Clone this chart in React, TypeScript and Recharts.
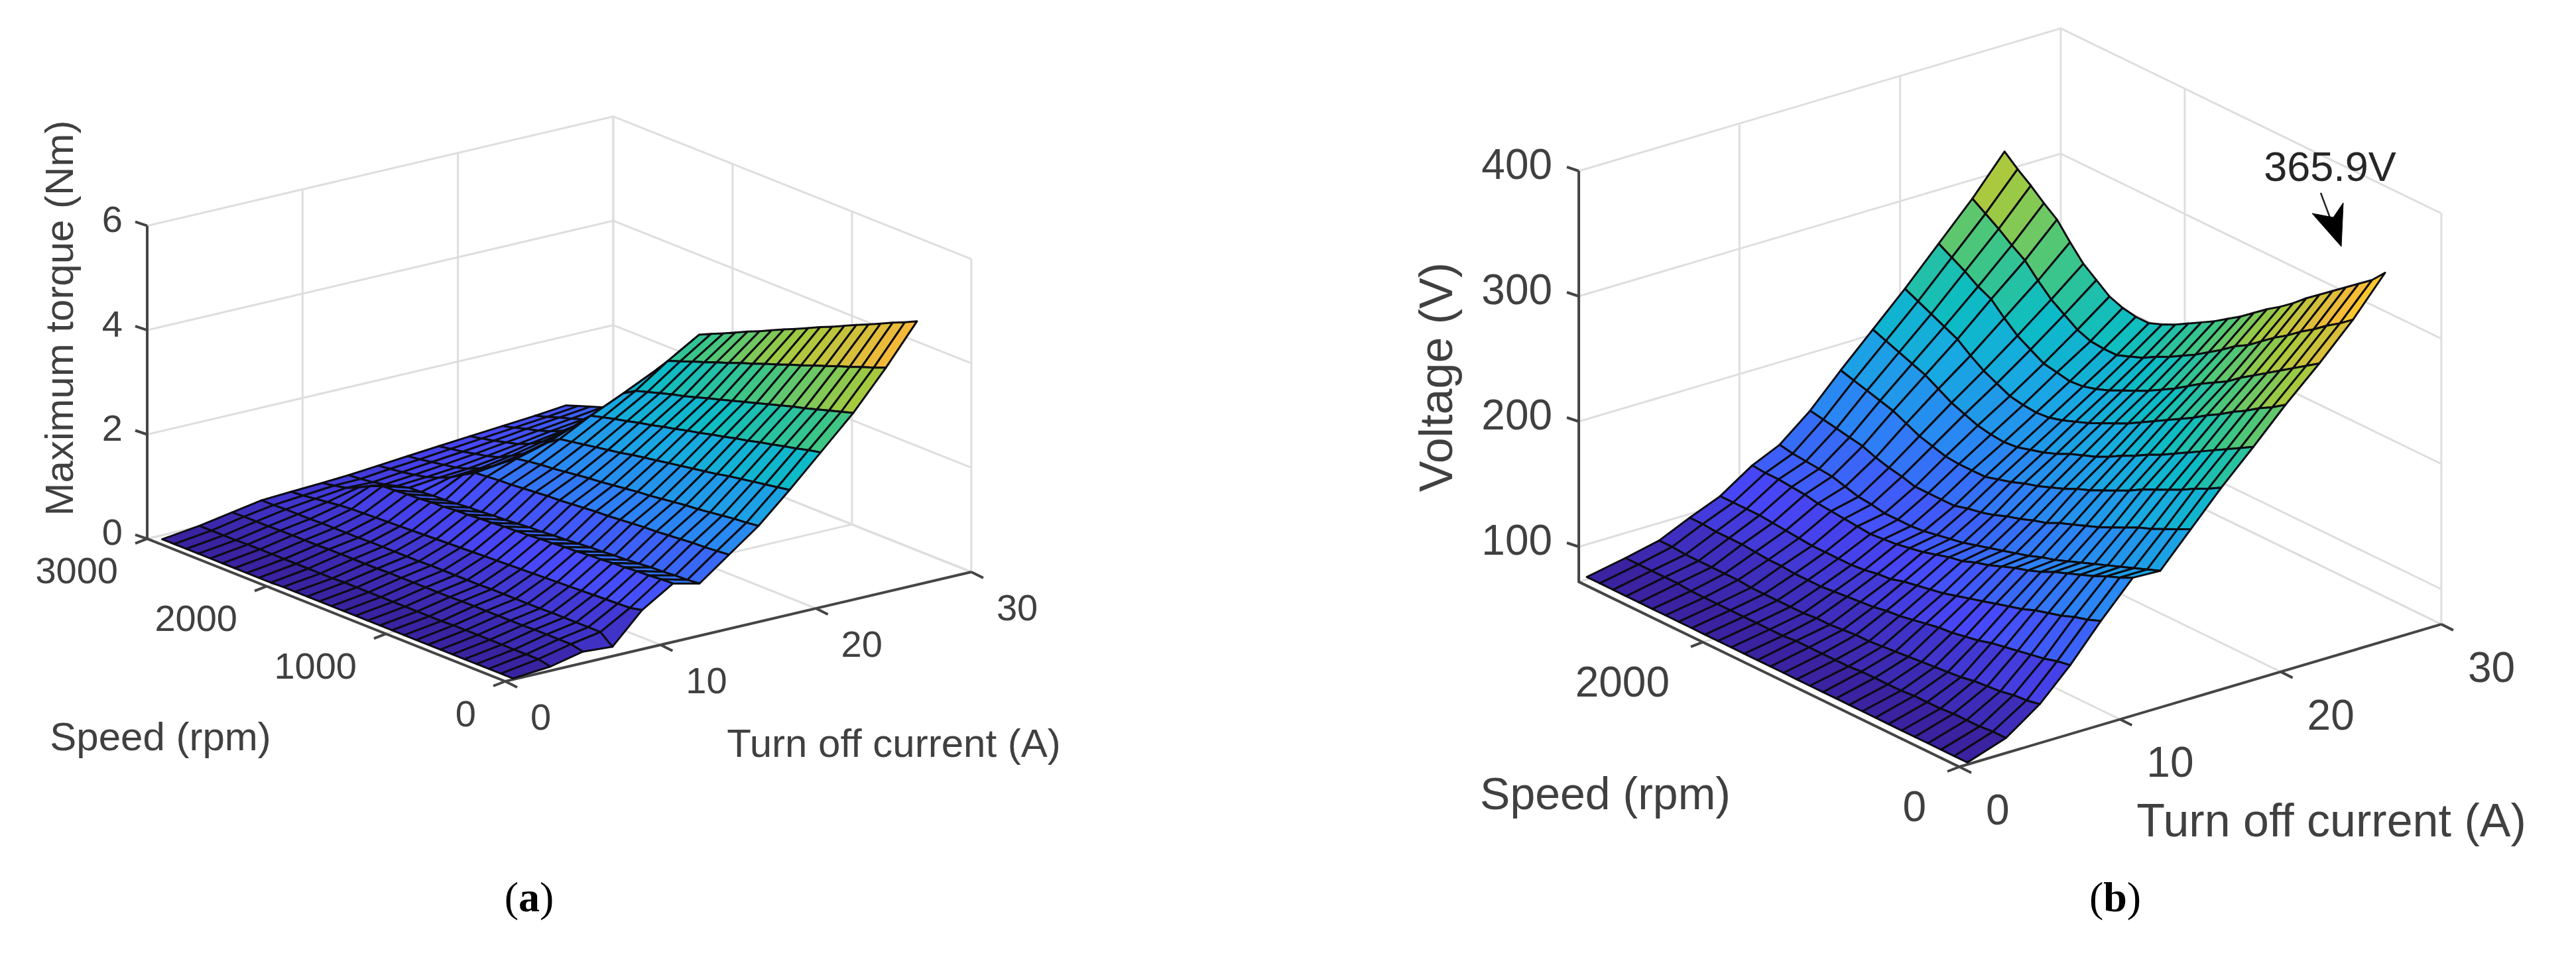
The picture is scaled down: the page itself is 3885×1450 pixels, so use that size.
import { ScatterChart, Scatter, XAxis, YAxis } from 'recharts';

const WIDTH = 3885;
const HEIGHT = 1450;

// turn off current (A) of each surface row
const currents = [0.5, 2.9, 5, 6.9, 8.8, 10.8, 12.5, 14.4, 16.3, 18.3, 20.3, 22.4, 24.5, 26.5];

// speed (rpm) of each surface column
const torqueSpeeds = [0, 101, 203, 304, 406, 507, 608, 710, 811, 912, 1014, 1115, 1217, 1318, 1419, 1521, 1622, 1724, 1825, 1926, 2028, 2129, 2230, 2332, 2433, 2535, 2636, 2737, 2839, 2940];
const voltageSpeeds = [0, 102, 205, 307, 409, 511, 614, 716, 818, 920, 1023, 1125, 1227, 1330, 1432, 1534, 1636, 1739, 1841, 1943, 2045, 2148, 2250, 2352, 2455, 2557, 2659, 2761, 2864, 2966];

// maximum torque (Nm), one line per current, one value per speed
const torqueRows = [
  [0.02, 0.02, 0.02, 0.02, 0.02, 0.02, 0.02, 0.02, 0.02, 0.02, 0.02, 0.02, 0.02, 0.02, 0.02, 0.02, 0.02, 0.02, 0.02, 0.02, 0.01, 0.01, 0.01, 0.01, 0.01, 0.01, 0.01, 0.01, 0.01, 0.01],
  [0.08, 0.13, 0.13, 0.13, 0.13, 0.13, 0.13, 0.13, 0.13, 0.12, 0.12, 0.12, 0.12, 0.12, 0.12, 0.12, 0.12, 0.12, 0.11, 0.11, 0.11, 0.11, 0.11, 0.11, 0.11, 0.11, 0.1, 0.1, 0.1, 0.1],
  [0.22, 0.27, 0.27, 0.27, 0.27, 0.26, 0.26, 0.26, 0.26, 0.26, 0.26, 0.25, 0.25, 0.25, 0.25, 0.25, 0.25, 0.24, 0.24, 0.24, 0.24, 0.24, 0.23, 0.23, 0.23, 0.23, 0.22, 0.22, 0.22, 0.21],
  [0.18, 0.37, 0.37, 0.37, 0.37, 0.37, 0.36, 0.36, 0.36, 0.36, 0.36, 0.35, 0.35, 0.35, 0.35, 0.35, 0.34, 0.34, 0.34, 0.34, 0.34, 0.33, 0.33, 0.33, 0.33, 0.32, 0.32, 0.32, 0.31, 0.31],
  [0.75, 0.7, 0.69, 0.68, 0.67, 0.66, 0.65, 0.64, 0.63, 0.62, 0.61, 0.6, 0.59, 0.58, 0.57, 0.56, 0.55, 0.54, 0.53, 0.52, 0.51, 0.5, 0.49, 0.48, 0.47, 0.45, 0.42, 0.39, 0.36, 0.34],
  [1.12, 1.11, 1.09, 1.08, 1.06, 1.05, 1.03, 1.02, 1.0, 0.99, 0.97, 0.96, 0.94, 0.93, 0.92, 0.9, 0.89, 0.87, 0.86, 0.84, 0.83, 0.81, 0.8, 0.78, 0.77, 0.68, 0.56, 0.46, 0.41, 0.37],
  [1.0, 0.98, 0.97, 0.95, 0.94, 0.92, 0.9, 0.89, 0.87, 0.86, 0.84, 0.82, 0.81, 0.79, 0.78, 0.76, 0.74, 0.73, 0.71, 0.7, 0.68, 0.66, 0.65, 0.63, 0.62, 0.56, 0.5, 0.45, 0.42, 0.4],
  [1.42, 1.4, 1.38, 1.37, 1.35, 1.33, 1.31, 1.3, 1.28, 1.26, 1.24, 1.23, 1.21, 1.19, 1.17, 1.16, 1.14, 1.12, 1.1, 1.09, 1.07, 1.05, 0.92, 0.78, 0.68, 0.6, 0.55, 0.51, 0.48, 0.45],
  [1.84, 1.81, 1.79, 1.76, 1.73, 1.7, 1.68, 1.65, 1.62, 1.59, 1.57, 1.54, 1.51, 1.48, 1.46, 1.43, 1.4, 1.37, 1.35, 1.32, 1.28, 1.12, 0.95, 0.82, 0.72, 0.65, 0.61, 0.57, 0.53, 0.5],
  [2.39, 2.35, 2.31, 2.27, 2.23, 2.19, 2.14, 2.1, 2.06, 2.02, 1.98, 1.94, 1.9, 1.86, 1.81, 1.77, 1.73, 1.69, 1.65, 1.61, 1.45, 1.25, 1.05, 0.92, 0.8, 0.73, 0.68, 0.63, 0.59, 0.55],
  [2.97, 2.92, 2.86, 2.81, 2.75, 2.7, 2.64, 2.59, 2.53, 2.48, 2.42, 2.37, 2.31, 2.26, 2.2, 2.15, 2.09, 2.04, 1.98, 1.92, 1.68, 1.42, 1.2, 1.05, 0.92, 0.82, 0.76, 0.7, 0.65, 0.6],
  [3.58, 3.51, 3.44, 3.37, 3.3, 3.24, 3.17, 3.1, 3.03, 2.96, 2.89, 2.82, 2.75, 2.68, 2.61, 2.55, 2.48, 2.41, 2.34, 2.2, 1.9, 1.6, 1.35, 1.18, 1.02, 0.92, 0.84, 0.78, 0.71, 0.65],
  [4.3, 4.21, 4.13, 4.04, 3.96, 3.87, 3.79, 3.7, 3.62, 3.53, 3.45, 3.36, 3.28, 3.19, 3.11, 3.02, 2.94, 2.85, 2.77, 2.5, 2.15, 1.8, 1.52, 1.32, 1.14, 1.0, 0.92, 0.85, 0.77, 0.7],
  [5.05, 4.94, 4.84, 4.73, 4.62, 4.52, 4.41, 4.3, 4.2, 4.09, 3.98, 3.88, 3.77, 3.66, 3.56, 3.45, 3.34, 3.24, 3.13, 2.8, 2.4, 2.0, 1.75, 1.52, 1.3, 1.15, 1.0, 0.92, 0.84, 0.76],
];

// voltage (V), same layout
const voltageRows = [
  [73.6, 73.6, 73.6, 73.6, 73.6, 73.6, 73.6, 73.7, 73.7, 73.7, 73.7, 73.7, 73.7, 73.7, 73.8, 73.8, 73.8, 73.8, 73.8, 73.8, 73.8, 73.9, 73.9, 73.9, 73.9, 73.9, 73.9, 74, 74, 74],
  [84, 84, 83, 83, 83, 82, 82, 82, 81, 81, 81, 81, 80, 80, 80, 80, 80, 79, 79, 79, 79, 79, 79, 79, 79, 80, 80, 80, 80, 80],
  [103, 101, 100, 98, 97, 96, 94, 93, 92, 91, 90, 89, 88, 87, 87, 86, 85, 85, 84, 84, 84, 84, 84, 85, 85, 85, 85, 85, 86, 86],
  [127, 125, 122, 120, 118, 116, 114, 111, 109, 107, 106, 104, 102, 100, 99, 97, 96, 95, 94, 93, 93, 93, 94, 94, 95, 96, 96, 96, 97, 97],
  [155, 151, 148, 144, 141, 138, 134, 131, 128, 125, 122, 119, 116, 114, 112, 110, 107, 106, 104, 103, 103, 103, 103, 104, 105, 106, 107, 107, 107, 107],
  [182, 177, 173, 168, 164, 160, 156, 151, 147, 144, 140, 136, 133, 129, 127, 124, 121, 119, 117, 116, 115, 116, 117, 118, 119, 121, 122, 123, 123, 124],
  [181, 177, 173, 169, 165, 161, 157, 153, 149, 146, 142, 139, 136, 133, 130, 127, 125, 123, 121, 120, 120, 120, 122, 123, 126, 129, 130, 131, 132, 134],
  [207, 202, 197, 192, 188, 183, 178, 173, 169, 165, 161, 156, 153, 149, 146, 142, 139, 137, 134, 134, 134, 134, 137, 139, 142, 146, 148, 150, 152, 154],
  [233, 227, 222, 216, 211, 206, 201, 195, 190, 185, 180, 176, 171, 167, 163, 160, 156, 153, 150, 150, 150, 151, 154, 157, 162, 167, 170, 173, 176, 179],
  [258, 252, 246, 240, 234, 228, 222, 216, 211, 205, 200, 194, 189, 185, 181, 176, 172, 169, 166, 165, 166, 168, 172, 176, 182, 188, 192, 196, 200, 204],
  [284, 277, 271, 264, 258, 251, 245, 238, 232, 226, 220, 214, 208, 203, 198, 193, 189, 185, 182, 181, 182, 184, 189, 194, 201, 209, 214, 219, 224, 229],
  [309, 302, 295, 288, 281, 274, 267, 259, 253, 247, 240, 233, 227, 221, 216, 211, 206, 202, 199, 198, 200, 202, 208, 214, 223, 233, 238, 245, 251, 257],
  [336, 328, 321, 313, 306, 298, 291, 283, 275, 269, 261, 254, 247, 241, 235, 230, 224, 220, 216, 216, 217, 221, 228, 235, 245, 256, 263, 271, 278, 285],
  [365.9, 355, 347, 339, 331, 323, 315, 306, 298, 291, 283, 275, 268, 261, 255, 249, 243, 238, 234, 234, 236, 240, 248, 256, 268, 281, 289, 298, 306, 315],
];

const torqueTicks = [0, 2, 4, 6];
const voltageTicks = [100, 200, 300, 400];
const currentTicks = [0, 10, 20, 30];
const torqueSpeedTicks = [0, 1000, 2000, 3000];
const voltageSpeedTicks = [0, 2000];

const PARULA = [
  [0, 58, 34, 160],
  [0.12, 72, 72, 250],
  [0.25, 44, 130, 245],
  [0.38, 24, 168, 226],
  [0.48, 12, 188, 196],
  [0.58, 62, 198, 132],
  [0.7, 165, 202, 62],
  [0.85, 248, 184, 56],
  [1, 250, 248, 20],
];

const parula = (t: number) => {
  const v = Math.min(1, Math.max(0, t));
  let i = 0;
  while (i < PARULA.length - 2 && v > PARULA[i + 1][0]) i++;
  const a = PARULA[i];
  const b = PARULA[i + 1];
  const f = (v - a[0]) / (b[0] - a[0]);
  const c = [1, 2, 3].map((k) => Math.round(a[k] + (b[k] - a[k]) * f));
  return `rgb(${c[0]},${c[1]},${c[2]})`;
};

interface Panel {
  front: { x: number; y: number };
  perAmp: { x: number; y: number };
  perRpm: { x: number; y: number };
  pxPerUnit: number;
  zMin: number;
  zMax: number;
  speedMax: number;
}

const torquePanel: Panel = {
  front: { x: 762, y: 1028 },
  perAmp: { x: 23.43, y: -5.5 },
  perRpm: { x: -0.18, y: -0.0717 },
  pxPerUnit: 78.7,
  zMin: 0,
  zMax: 6,
  speedMax: 3000,
};

const voltagePanel: Panel = {
  front: { x: 2955, y: 1157 },
  perAmp: { x: 24.23, y: -7.17 },
  perRpm: { x: -0.1935, y: -0.0941 },
  pxPerUnit: 1.89,
  zMin: 72,
  zMax: 400,
  speedMax: 2966,
};

// 3D axes are orthographic, so this is all the projection there is
const project = (p: Panel, amps: number, rpm: number, z: number) => ({
  x: p.front.x + amps * p.perAmp.x + rpm * p.perRpm.x,
  y: p.front.y + amps * p.perAmp.y + rpm * p.perRpm.y - (z - p.zMin) * p.pxPerUnit,
});

// far corner first so nearer faces paint over it
const buildFaces = (p: Panel, speeds: number[], rows: number[][]) => {
  const all = rows.flat();
  const lo = Math.min(...all);
  const hi = Math.max(...all);
  const faces: any[] = [];
  for (let r = rows.length - 2; r >= 0; r--) {
    for (let c = speeds.length - 2; c >= 0; c--) {
      const corners = [
        project(p, currents[r], speeds[c], rows[r][c]),
        project(p, currents[r], speeds[c + 1], rows[r][c + 1]),
        project(p, currents[r + 1], speeds[c + 1], rows[r + 1][c + 1]),
        project(p, currents[r + 1], speeds[c], rows[r + 1][c]),
      ];
      // flat shading, the face takes its colour from the lower current edge
      const level = (rows[r][c] + rows[r][c + 1]) / 2;
      faces.push({ x: corners[0].x, y: corners[0].y, corners, fill: parula((level - lo) / (hi - lo)) });
    }
  }
  return faces;
};

const buildGrid = (p: Panel, zTicks: number[], speedTicks: number[]) => {
  const seg: any[][] = [];
  const S = p.speedMax;
  const A = 30;
  zTicks.forEach((z) => {
    seg.push([project(p, 0, S, z), project(p, A, S, z), project(p, A, 0, z)]);
  });
  currentTicks.slice(1).forEach((a) => {
    seg.push([project(p, a, S, p.zMin), project(p, a, S, p.zMax)]);
    seg.push([project(p, a, 0, p.zMin), project(p, a, S, p.zMin)]);
  });
  speedTicks.forEach((s) => {
    if (s === 0) return;
    seg.push([project(p, A, s, p.zMin), project(p, A, s, p.zMax)]);
    seg.push([project(p, 0, s, p.zMin), project(p, A, s, p.zMin)]);
  });
  seg.push([project(p, A, 0, p.zMin), project(p, A, 0, p.zMax)]);
  seg.push([project(p, 0, S, p.zMin), project(p, A, S, p.zMin), project(p, A, 0, p.zMin)]);
  return seg;
};

const shift = (pt: { x: number; y: number }, dx: number, dy: number) => ({ x: pt.x + dx, y: pt.y + dy });

const buildAxes = (p: Panel, zTicks: number[], speedTicks: number[]) => {
  const S = p.speedMax;
  const seg: any[][] = [
    [project(p, 0, S, p.zMax), project(p, 0, S, p.zMin), project(p, 0, 0, p.zMin), project(p, 30, 0, p.zMin)],
  ];
  zTicks.forEach((z) => {
    const at = project(p, 0, S, z);
    seg.push([at, shift(at, -18, -6)]);
  });
  speedTicks.forEach((s) => {
    const at = project(p, 0, s, p.zMin);
    seg.push([at, shift(at, -18, 7)]);
  });
  currentTicks.forEach((a) => {
    const at = project(p, a, 0, p.zMin);
    seg.push([at, shift(at, 18, 9)]);
  });
  return seg;
};

const buildLabels = (
  p: Panel,
  zTicks: number[],
  speedTicks: number[],
  size: number,
  off: { z: number[]; speed: number[]; current: number[] },
) => {
  const out: any[] = [];
  zTicks.forEach((z) => {
    const at = shift(project(p, 0, p.speedMax, z), off.z[0], off.z[1]);
    out.push({ ...at, text: String(z), size, anchor: 'end' });
  });
  speedTicks.forEach((s) => {
    const at = shift(project(p, 0, s, p.zMin), off.speed[0], off.speed[1]);
    out.push({ ...at, text: String(s), size, anchor: 'end' });
  });
  currentTicks.forEach((a) => {
    const at = shift(project(p, a, 0, p.zMin), off.current[0], off.current[1]);
    out.push({ ...at, text: String(a), size, anchor: 'start' });
  });
  return out;
};

const titles = [
  { x: 89, y: 480, text: 'Maximum torque (Nm)', size: 60, anchor: 'middle', rotate: true },
  { x: 242, y: 1111, text: 'Speed (rpm)', size: 60, anchor: 'middle' },
  { x: 1348, y: 1121, text: 'Turn off current (A)', size: 60, anchor: 'middle' },
  { x: 2166, y: 569, text: 'Voltage (V)', size: 70, anchor: 'middle', rotate: true },
  { x: 2421, y: 1197, text: 'Speed (rpm)', size: 68, anchor: 'middle' },
  { x: 3516, y: 1238, text: 'Turn off current (A)', size: 70, anchor: 'middle' },
  { x: 3514, y: 251, text: '365.9V', size: 63, anchor: 'middle', ink: '#262626' },
];

const captions = [
  { x: 798, y: 1353, letter: 'a' },
  { x: 3190, y: 1353, letter: 'b' },
];

const calloutShaft = [{ x: 3500, y: 291 }, { x: 3528, y: 366 }];
const calloutHead = [
  { x: 3531, y: 372 },
  { x: 3487, y: 322 },
  { x: 3519, y: 328 },
  { x: 3534, y: 306 },
  { x: 3531, y: 372 },
];

const NoMark = () => <g />;

const FaceMark = (props: any) => {
  const { cx, cy, payload } = props;
  const pts = payload.corners.map((c: any) => `${cx + c.x - payload.x},${cy + c.y - payload.y}`).join(' ');
  return <polygon points={pts} fill={payload.fill} stroke="#0c0c12" strokeWidth={3} strokeLinejoin="round" />;
};

const TextMark = (props: any) => {
  const { cx, cy, payload } = props;
  return (
    <text
      x={cx}
      y={cy}
      textAnchor={payload.anchor}
      dominantBaseline="central"
      fontFamily='"Liberation Sans", Arial, sans-serif'
      fontSize={payload.size}
      fill={payload.ink || '#404040'}
      transform={payload.rotate ? `rotate(-90 ${cx} ${cy})` : undefined}
    >
      {payload.text}
    </text>
  );
};

const CaptionMark = (props: any) => {
  const { cx, cy, payload } = props;
  return (
    <text x={cx} y={cy} textAnchor="middle" dominantBaseline="central" fontFamily='"Liberation Serif", serif' fontSize={64} fill="#000">
      (<tspan fontWeight="bold">{payload.letter}</tspan>)
    </text>
  );
};

const grids = [...buildGrid(torquePanel, torqueTicks, torqueSpeedTicks), ...buildGrid(voltagePanel, voltageTicks, voltageSpeedTicks)];
const axes = [...buildAxes(torquePanel, torqueTicks, torqueSpeedTicks), ...buildAxes(voltagePanel, voltageTicks, voltageSpeedTicks)];
const torqueFaces = buildFaces(torquePanel, torqueSpeeds, torqueRows);
const voltageFaces = buildFaces(voltagePanel, voltageSpeeds, voltageRows);
const labels = [
  ...buildLabels(torquePanel, torqueTicks, torqueSpeedTicks, 56, { z: [-37, -10], speed: [-44, 48], current: [38, 53] }),
  ...buildLabels(voltagePanel, voltageTicks, voltageSpeedTicks, 64, { z: [-40, -10], speed: [-50, 60], current: [40, 65] }),
  ...titles,
];

export default function App() {
  return (
    <div style={{ position: 'absolute', left: 0, top: 0, background: '#fff' }}>
      <ScatterChart width={WIDTH} height={HEIGHT} margin={{ top: 0, right: 0, bottom: 0, left: 0 }}>
        <XAxis type="number" dataKey="x" domain={[0, WIDTH]} hide />
        <YAxis type="number" dataKey="y" domain={[0, HEIGHT]} reversed hide />
        {grids.map((pts, i) => (
          <Scatter key={`grid-${i}`} data={pts} shape={NoMark} line={{ stroke: '#dedede', strokeWidth: 3 }} isAnimationActive={false} />
        ))}
        {axes.map((pts, i) => (
          <Scatter key={`axis-${i}`} data={pts} shape={NoMark} line={{ stroke: '#454545', strokeWidth: 4 }} isAnimationActive={false} />
        ))}
        <Scatter data={torqueFaces} shape={FaceMark} isAnimationActive={false} />
        <Scatter data={voltageFaces} shape={FaceMark} isAnimationActive={false} />
        <Scatter data={calloutShaft} shape={NoMark} line={{ stroke: '#222', strokeWidth: 2.5 }} isAnimationActive={false} />
        <Scatter data={calloutHead} shape={NoMark} line={{ stroke: '#000', strokeWidth: 1, fill: '#000' }} isAnimationActive={false} />
        <Scatter data={labels} shape={TextMark} isAnimationActive={false} />
        <Scatter data={captions} shape={CaptionMark} isAnimationActive={false} />
      </ScatterChart>
    </div>
  );
}
